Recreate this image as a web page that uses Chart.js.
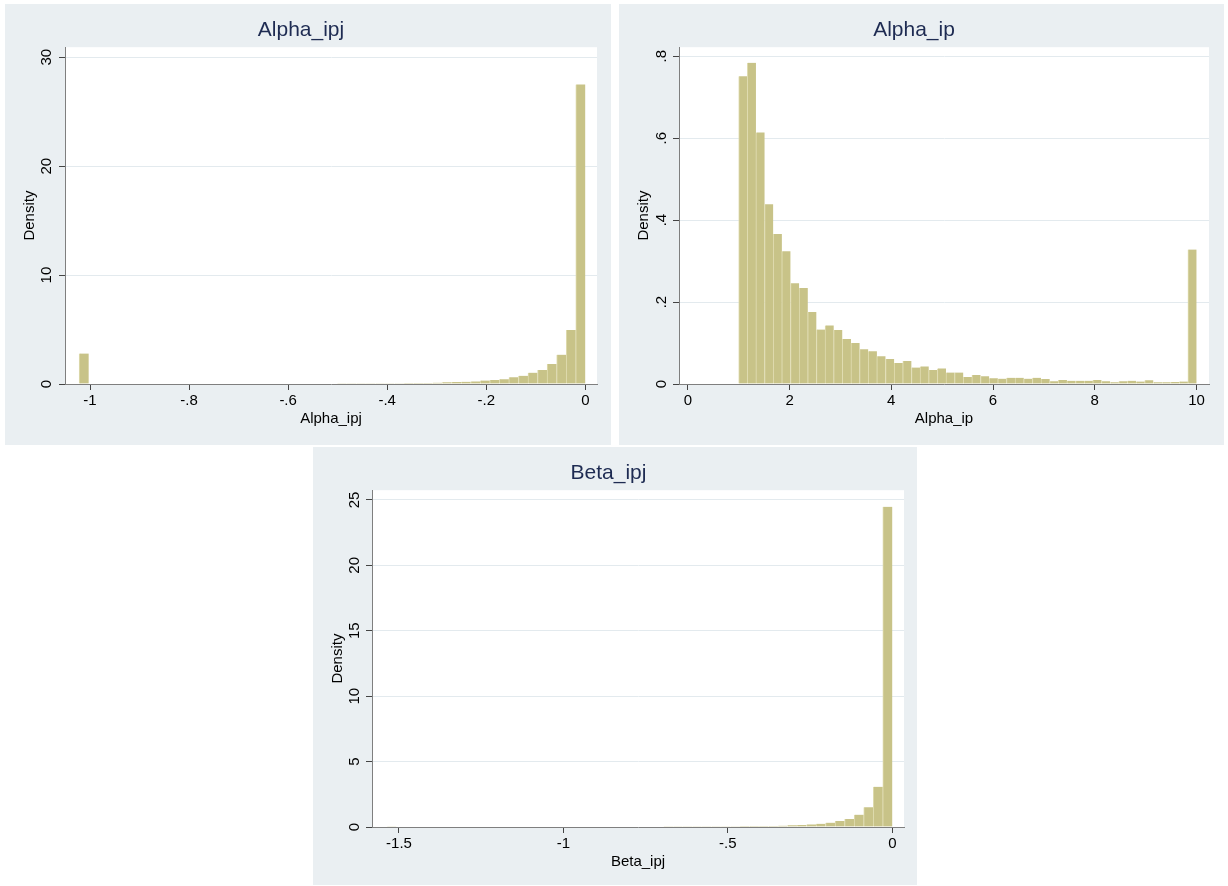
<!DOCTYPE html>
<html>
<head>
<meta charset="utf-8">
<script src="https://cdn.jsdelivr.net/npm/chart.js@4.4.1/dist/chart.umd.min.js"></script>
<style>
html, body { margin: 0; padding: 0; background: #ffffff; width: 1228px; height: 886px; overflow: hidden; }
.panel { position: absolute; background: #eaeff2; }
canvas { display: block; }
</style>
</head>
<body>
<div class="panel" style="left:5px;top:4px;width:606px;height:441px"><canvas id="c1" width="606" height="441"></canvas></div>
<div class="panel" style="left:619px;top:4px;width:605px;height:441px"><canvas id="c2" width="605" height="441"></canvas></div>
<div class="panel" style="left:313px;top:447px;width:604px;height:438px"><canvas id="c3" width="604" height="438"></canvas></div>
<script>
// ---------------- DATA ----------------
// Alpha_ipj histogram (53 bins)
const alphaIpjBinStart = -1.022;
const alphaIpjBinWidth = 1.022 / 53;
const alphaIpjDensity = [
  2.8,
  0.04, 0.04, 0.04, 0.04, 0.04, 0.04, 0.04, 0.04, 0.04, 0.04,
  0.04, 0.04, 0.04, 0.04, 0.04, 0.04, 0.04, 0.04, 0.04,
  0.045, 0.045, 0.05, 0.05, 0.05, 0.055, 0.055, 0.06, 0.06, 0.065,
  0.07, 0.07, 0.075, 0.08, 0.085, 0.09, 0.10,
  0.12, 0.15, 0.18, 0.21, 0.24, 0.31, 0.37, 0.44, 0.61, 0.76,
  1.04, 1.28, 1.83, 2.69, 4.95, 27.5
];
const alphaIpjXTicks = [-1, -0.8, -0.6, -0.4, -0.2, 0];
const alphaIpjXTickLabels = ['-1', '-.8', '-.6', '-.4', '-.2', '0'];
const alphaIpjYTicks = [0, 10, 20, 30];
const alphaIpjYTickLabels = ['0', '10', '20', '30'];

// Alpha_ip histogram (53 bins)
const alphaIpBinStart = 1.0;
const alphaIpBinWidth = 9 / 53;
const alphaIpDensity = [
  0.751, 0.784, 0.614, 0.439, 0.366, 0.324, 0.246, 0.234, 0.176, 0.133,
  0.143, 0.132, 0.110, 0.100, 0.085, 0.080, 0.068, 0.061, 0.051, 0.056,
  0.040, 0.043, 0.034, 0.038, 0.028, 0.028, 0.017, 0.022, 0.019, 0.014,
  0.013, 0.015, 0.015, 0.013, 0.015, 0.012, 0.007, 0.010, 0.008, 0.008,
  0.008, 0.010, 0.007, 0.004, 0.007, 0.008, 0.006, 0.009, 0.004, 0.004,
  0.005, 0.006, 0.328
];
const alphaIpXTicks = [0, 2, 4, 6, 8, 10];
const alphaIpXTickLabels = ['0', '2', '4', '6', '8', '10'];
const alphaIpYTicks = [0, 0.2, 0.4, 0.6, 0.8];
const alphaIpYTickLabels = ['0', '.2', '.4', '.6', '.8'];

// Beta_ipj histogram (53 bins)
const betaIpjBinStart = -1.537;
const betaIpjBinWidth = 1.537 / 53;
const betaIpjDensity = [
  0.05, 0.03, 0.03, 0.03, 0.03, 0.03, 0.03, 0.03, 0.03, 0.03,
  0.03, 0.03, 0.03, 0.03, 0.03, 0.03, 0.03, 0.03, 0.03, 0.035,
  0.035, 0.035, 0.035, 0.04, 0.04,
  0.04, 0.04, 0.045, 0.045, 0.05, 0.05, 0.05, 0.055, 0.055, 0.06,
  0.06, 0.065, 0.07, 0.07, 0.075,
  0.08, 0.10, 0.13, 0.15, 0.20, 0.25, 0.33, 0.46, 0.61, 0.94,
  1.50, 3.07, 24.47
];
const betaIpjXTicks = [-1.5, -1, -0.5, 0];
const betaIpjXTickLabels = ['-1.5', '-1', '-.5', '0'];
const betaIpjYTicks = [0, 5, 10, 15, 20, 25];
const betaIpjYTickLabels = ['0', '5', '10', '15', '20', '25'];

// ---------------- DRAWING ----------------
const BAR_FILL = '#c8c388';
const BAR_EDGE = '#e0dcb0';
const TITLE_COLOR = '#1e2b52';

Chart.defaults.font.family = "'Liberation Sans', Arial, Helvetica, sans-serif";
Chart.defaults.color = '#000';

// white plot region behind grid and bars
const plotRegionBg = {
  id: 'plotRegionBg',
  beforeDraw(chart) {
    const a = chart.chartArea, ctx = chart.ctx;
    ctx.save();
    ctx.fillStyle = '#ffffff';
    ctx.fillRect(a.left, a.top, a.right - a.left, a.bottom - a.top);
    ctx.restore();
  }
};

function binPoints(start, width, vals) {
  return vals.map((v, i) => ({ x: start + width * (i + 0.5), y: v }));
}

function makeHist(id, spec) {
  const canvas = document.getElementById(id);
  const W = canvas.width, H = canvas.height;
  return new Chart(canvas.getContext('2d'), {
    type: 'bar',
    plugins: [plotRegionBg],
    data: {
      datasets: [{
        data: binPoints(spec.binStart, spec.binWidth, spec.values),
        backgroundColor: BAR_FILL,
        borderColor: BAR_EDGE,
        borderWidth: { left: 1, top: 0, right: 0, bottom: 0 },
        borderSkipped: false,
        barPercentage: 1,
        categoryPercentage: 1
      }]
    },
    options: {
      responsive: false,
      animation: false,
      devicePixelRatio: 1,
      events: [],
      layout: { autoPadding: false, padding: { left: 0, top: 0, right: W - spec.plotRight, bottom: 0 } },
      plugins: {
        legend: { display: false },
        tooltip: { enabled: false },
        title: {
          display: true, text: spec.title, color: TITLE_COLOR,
          font: { size: 21, weight: 'normal' },
          padding: { top: 14, bottom: 4 }
        }
      },
      scales: {
        x: {
          type: 'linear',
          offset: false,
          min: spec.xMin, max: spec.xMax,
          afterBuildTicks: s => { s.ticks = spec.xTicks.map(v => ({ value: v })); },
          afterFit: s => { s.height = H - spec.plotBottom; },
          ticks: {
            autoSkip: false, maxRotation: 0, minRotation: 0, padding: 2,
            font: { size: 15 }, color: '#000',
            callback: v => spec.xTickLabels[spec.xTicks.indexOf(v)]
          },
          grid: { offset: false, drawOnChartArea: false, drawTicks: true, tickLength: 6, tickColor: '#444', tickWidth: 1 },
          border: { display: true, color: '#7f7f7f', width: 1 },
          title: {
            display: true, text: spec.xTitle, color: '#000',
            font: { size: 15 }, padding: { top: 0, bottom: H - 424 }
          }
        },
        y: {
          type: 'linear',
          offset: false,
          min: 0, max: spec.yMax,
          afterBuildTicks: s => { s.ticks = spec.yTicks.map(v => ({ value: v })); },
          afterFit: s => { s.width = spec.plotLeft; },
          ticks: {
            autoSkip: false, minRotation: 90, maxRotation: 90, crossAlign: 'center',
            padding: spec.yTickPad, font: { size: 15 }, color: '#000',
            callback: v => spec.yTickLabels[spec.yTicks.indexOf(v)]
          },
          grid: { offset: false, color: '#e3eaee', lineWidth: 1, drawTicks: true, tickLength: 6, tickColor: '#444', tickWidth: 1 },
          border: { display: true, color: '#7f7f7f', width: 1 },
          title: {
            display: true, text: 'Density', color: '#000',
            font: { size: 15 }, padding: { top: 16, bottom: 0 }
          }
        }
      }
    }
  });
}

makeHist('c1', {
  title: 'Alpha_ipj', xTitle: 'Alpha_ipj',
  binStart: alphaIpjBinStart, binWidth: alphaIpjBinWidth, values: alphaIpjDensity,
  xTicks: alphaIpjXTicks, xTickLabels: alphaIpjXTickLabels,
  yTicks: alphaIpjYTicks, yTickLabels: alphaIpjYTickLabels,
  xMin: -1.0505, xMax: 0.0236, yMax: 30.92,
  plotLeft: 60, plotRight: 592, plotBottom: 380, yTickPad: 4
});

makeHist('c2', {
  title: 'Alpha_ip', xTitle: 'Alpha_ip',
  binStart: alphaIpBinStart, binWidth: alphaIpBinWidth, values: alphaIpDensity,
  xTicks: alphaIpXTicks, xTickLabels: alphaIpXTickLabels,
  yTicks: alphaIpYTicks, yTickLabels: alphaIpYTickLabels,
  xMin: -0.173, xMax: 10.245, yMax: 0.822,
  plotLeft: 60, plotRight: 590, plotBottom: 380, yTickPad: 5
});

makeHist('c3', {
  title: 'Beta_ipj', xTitle: 'Beta_ipj',
  binStart: betaIpjBinStart, binWidth: betaIpjBinWidth, values: betaIpjDensity,
  xTicks: betaIpjXTicks, xTickLabels: betaIpjXTickLabels,
  yTicks: betaIpjYTicks, yTickLabels: betaIpjYTickLabels,
  xMin: -1.582, xMax: 0.0355, yMax: 25.74,
  plotLeft: 59, plotRight: 591, plotBottom: 380, yTickPad: 3
});
</script>
</body>
</html>
